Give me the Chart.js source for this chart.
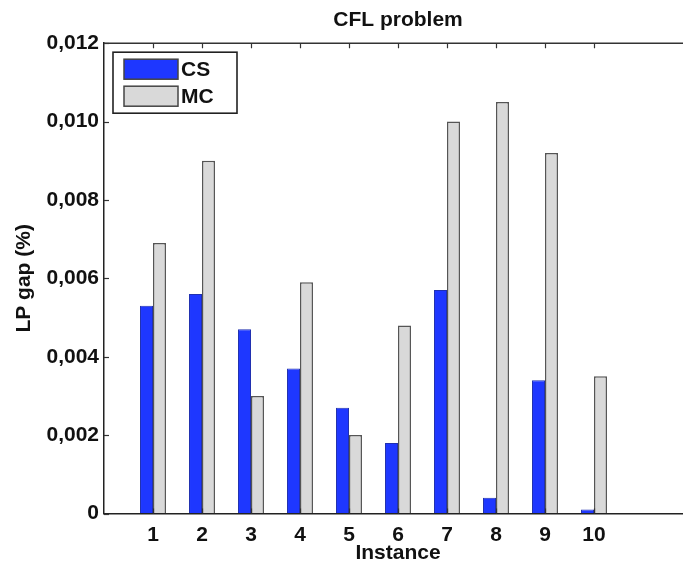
<!DOCTYPE html>
<html>
<head>
<meta charset="utf-8">
<script src="https://cdn.jsdelivr.net/npm/chart.js@4.4.1/dist/chart.umd.min.js"></script>
<style>
  html, body { margin: 0; padding: 0; background: #fff; overflow: hidden; }
  #wrap { width: 700px; height: 566px; }
</style>
</head>
<body>
<div id="wrap"><canvas id="c" width="700" height="566"></canvas></div>
<script>
const categories = [1, 2, 3, 4, 5, 6, 7, 8, 9, 10];
const csValues = [0.0053, 0.0056, 0.0047, 0.0037, 0.0027, 0.0018, 0.0057, 0.0004, 0.0034, 0.0001];
const mcValues = [0.0069, 0.0090, 0.0030, 0.0059, 0.0020, 0.0048, 0.0100, 0.0105, 0.0092, 0.0035];
const yTickValues = [0, 0.002, 0.004, 0.006, 0.008, 0.010, 0.012];
const xMin = 0, xMax = 12;
const seriesNames = ['CS', 'MC'];
const titleText = 'CFL problem';
const xTitle = 'Instance';
const yTitle = 'LP gap (%)';

const FONT = "'Liberation Sans', Arial, Helvetica, sans-serif";
const FS = 21;

const frame = {
  id: 'frame',
  afterDraw(chart) {
    const { ctx, chartArea: a, scales: { x, y } } = chart;
    ctx.save();
    ctx.strokeStyle = '#333';
    ctx.lineWidth = 1.5;
    // top border
    ctx.beginPath();
    ctx.moveTo(a.left, a.top);
    ctx.lineTo(a.right, a.top);
    ctx.stroke();
    // inward ticks
    ctx.lineWidth = 1.2;
    x.ticks.forEach(t => {
      const px = Math.round(x.getPixelForValue(t.value)) + 0.5;
      ctx.beginPath();
      ctx.moveTo(px, a.bottom); ctx.lineTo(px, a.bottom - 5);
      ctx.moveTo(px, a.top); ctx.lineTo(px, a.top + 5);
      ctx.stroke();
    });
    y.ticks.forEach(t => {
      const py = Math.round(y.getPixelForValue(t.value)) + 0.5;
      ctx.beginPath();
      ctx.moveTo(a.left, py); ctx.lineTo(a.left + 5, py);
      ctx.stroke();
    });
    // legend box
    const bx = a.left + 9, by = a.top + 9, bw = 124, bh = 61;
    ctx.fillStyle = '#fff';
    ctx.fillRect(bx, by, bw, bh);
    ctx.strokeStyle = '#222';
    ctx.lineWidth = 1.6;
    ctx.strokeRect(bx, by, bw, bh);
    chart.data.datasets.forEach((ds, i) => {
      const sx = a.left + 20, sy = a.top + 16 + i * 27, sw = 54, sh = 20;
      ctx.fillStyle = ds.backgroundColor;
      ctx.fillRect(sx, sy, sw, sh);
      ctx.strokeStyle = '#444';
      ctx.lineWidth = 1.5;
      ctx.strokeRect(sx, sy, sw, sh);
      ctx.fillStyle = '#111';
      ctx.font = `bold ${FS}px ${FONT}`;
      ctx.textBaseline = 'middle';
      ctx.textAlign = 'left';
      ctx.fillText(ds.label, sx + 57, sy + sh / 2 + 1);
    });
    ctx.restore();
  }
};

new Chart(document.getElementById('c'), {
  type: 'bar',
  data: {
    datasets: [
      {
        label: seriesNames[0],
        data: categories.map((c, i) => ({ x: c, y: csValues[i] })),
        backgroundColor: 'rgb(30,55,255)',
        borderColor: '#2030b0',
        borderWidth: 1,
        barPercentage: 1.0,
        categoryPercentage: 0.53
      },
      {
        label: seriesNames[1],
        data: categories.map((c, i) => ({ x: c, y: mcValues[i] })),
        backgroundColor: '#d9d9d9',
        borderColor: '#555',
        borderWidth: 1.5,
        barPercentage: 1.0,
        categoryPercentage: 0.53
      }
    ]
  },
  options: {
    responsive: false,
    animation: false,
    devicePixelRatio: 1,
    layout: { padding: { left: 0, right: 8, top: 0, bottom: 0 } },
    plugins: {
      legend: { display: false },
      tooltip: { enabled: false },
      title: {
        display: true,
        text: titleText,
        fullSize: false,
        color: '#111',
        font: { family: FONT, size: FS, weight: 'bold' },
        padding: { top: 8, bottom: 10 }
      }
    },
    scales: {
      x: {
        type: 'linear',
        min: xMin,
        max: xMax,
        offset: false,
        afterBuildTicks: s => { s.ticks = categories.map(v => ({ value: v })); },
        afterFit: s => { s.height = 52.5; },
        grid: { display: true, drawOnChartArea: false, drawTicks: false, offset: false },
        border: { display: true, color: '#222', width: 1.5 },
        ticks: {
          padding: 9,
          color: '#111',
          font: { family: FONT, size: FS, weight: 'bold' },
          callback: v => String(v),
          maxRotation: 0,
          autoSkip: false
        },
        title: {
          display: true,
          text: xTitle,
          color: '#111',
          font: { family: FONT, size: FS, weight: 'bold' },
          padding: { top: 0, bottom: 0 }
        }
      },
      y: {
        min: 0,
        max: 0.012,
        afterBuildTicks: s => { s.ticks = yTickValues.map(v => ({ value: v })); },
        afterFit: s => { s.width = 104; },
        grid: { display: true, drawOnChartArea: false, drawTicks: false },
        border: { display: true, color: '#222', width: 1.5 },
        ticks: {
          padding: 5,
          color: '#111',
          font: { family: FONT, size: FS, weight: 'bold' },
          callback: v => v === 0 ? '0' : v.toFixed(3).replace('.', ',')
        },
        title: {
          display: true,
          text: yTitle,
          color: '#111',
          font: { family: FONT, size: FS, weight: 'bold' },
          padding: { top: 12, bottom: 0 }
        }
      }
    }
  },
  plugins: [frame]
});
</script>
</body>
</html>
